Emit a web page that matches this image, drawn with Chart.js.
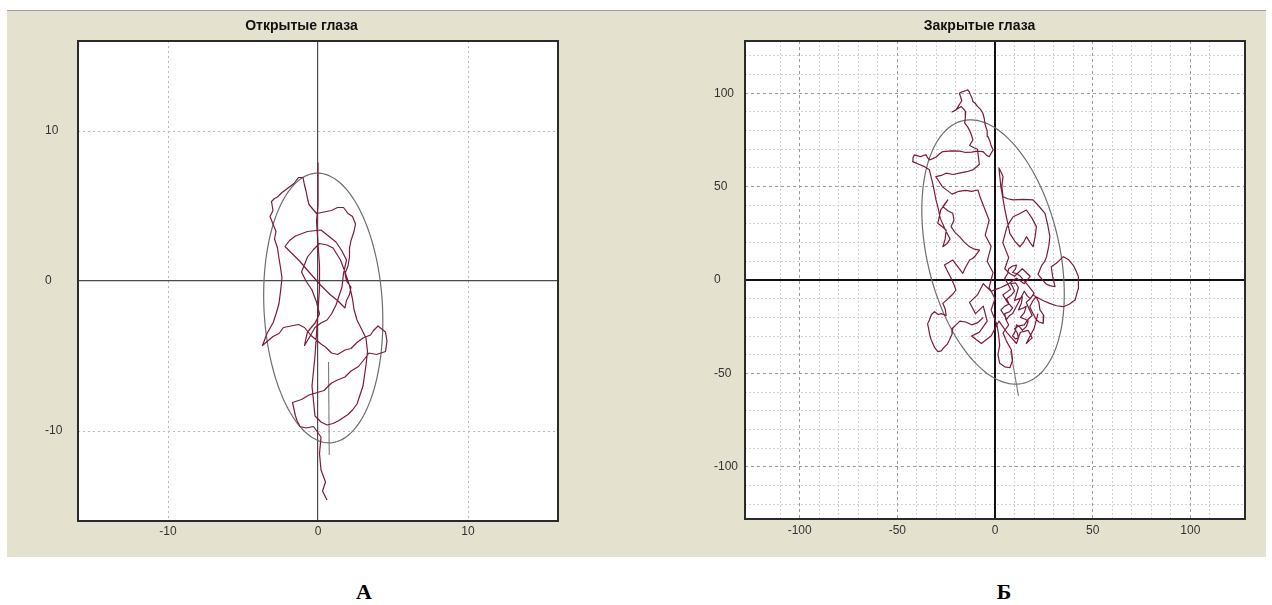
<!DOCTYPE html>
<html>
<head>
<meta charset="utf-8">
<script src="https://cdn.jsdelivr.net/npm/chart.js@4.4.1/dist/chart.umd.min.js"></script>
<style>
  html, body { margin: 0; padding: 0; background: #fff; width: 1272px; height: 605px; overflow: hidden; }
  #panel { position: absolute; left: 7px; top: 10px; width: 1259px; height: 546px; background: #e4e1cf; border-top: 1px solid #a5a392; }
  canvas { position: absolute; }
  .tag { position: absolute; font: bold 22px "Liberation Serif", "Times New Roman", serif; color: #000; transform: translate(-50%, -50%); }
</style>
</head>
<body>
<div id="panel"></div>
<canvas id="openChart" width="580" height="545" style="left:8px;top:11px"></canvas>
<canvas id="closedChart" width="572" height="545" style="left:690px;top:11px"></canvas>
<div class="tag" style="left:364px;top:592px">А</div>
<div class="tag" style="left:1004px;top:592px">Б</div>

<script>
// ---- data: open eyes (units as on the axes) ----
const OPEN_TITLE = "Открытые глаза";
const OPEN_RANGE = [-16, 16];
const OPEN_TICKS = [-10, 0, 10];
const OPEN_TRACE = [
  [0.6,-14.6],[0.3,-14.0],[0.5,-13.4],[0.2,-12.6],[0.1,-11.5],[0.2,-10.4],[-0.3,-9.7],[-0.8,-9.8],[-1.2,-9.7],
  [-1.4,-9.3],[-1.5,-9.0],[-1.7,-8.1],[-1.1,-7.9],[-0.6,-7.6],[0.4,-7.3],[0.9,-6.8],[1.3,-6.6],[1.8,-6.4],
  [2.2,-6.0],[2.7,-5.7],[3.1,-5.2],[3.4,-4.8],[3.9,-4.9],[4.5,-4.7],[4.6,-4.0],[4.5,-3.4],[4.0,-3.0],
  [3.7,-3.3],[3.5,-3.6],[3.0,-3.8],[2.6,-4.1],[2.2,-4.5],[1.8,-4.6],[1.3,-4.9],[0.9,-4.8],[0.5,-4.4],
  [0.2,-4.2],[-0.5,-3.6],[-0.9,-3.1],[-1.3,-2.9],[-1.8,-3.0],[-2.3,-3.1],[-2.6,-3.5],[-3.0,-3.7],[-3.7,-4.3],
  [-3.4,-3.5],[-3.0,-2.8],[-2.8,-2.2],[-2.6,-1.5],[-2.5,-0.7],[-2.4,0.2],[-2.5,0.9],[-2.6,1.5],[-2.7,2.2],
  [-2.9,2.8],[-2.8,3.3],[-3.0,3.8],[-3.2,4.3],[-3.0,4.7],[-3.1,5.3],[-2.9,5.5],[-2.7,5.6],[-2.4,5.9],
  [-2.0,6.2],[-1.6,6.5],[-1.3,6.9],[-1.0,6.9],[-0.9,6.4],[-0.8,6.0],[-0.7,5.5],[-0.6,5.1],[-0.1,4.5],
  [0.4,4.6],[0.9,4.7],[1.3,4.9],[1.7,4.9],[2.0,4.5],[2.3,4.3],[2.5,3.8],[2.4,3.3],[2.2,2.7],[2.1,2.2],
  [2.1,1.6],[2.0,1.0],[1.8,0.5],[1.9,0.0],[2.2,-0.4],[2.1,-0.9],[1.9,-1.3],[1.8,-1.8],[1.3,-1.3],
  [0.8,-0.9],[0.1,-0.2],[-0.6,0.6],[-1.2,1.3],[-1.8,1.9],[-2.2,2.3],[-1.9,2.7],[-1.5,3.0],[-0.7,3.3],
  [0.2,3.4],[0.7,3.0],[1.2,2.6],[1.6,2.0],[1.9,1.4],[1.7,0.5],[1.6,-0.4],[1.4,-1.0],[1.2,-1.6],
  [0.9,-2.2],[0.6,-2.6],[0.2,-2.8],[-0.2,-3.1],[-0.6,-3.8],[-0.9,-4.3],[-0.8,-3.8],[-0.7,-3.4],[-0.2,-2.8],
  [0.1,-2.2],[-0.1,-1.4],[-0.4,-0.6],[-0.8,0.0],[-1.1,0.6],[-0.9,1.1],[-0.7,1.6],[-0.3,2.1],[0.1,2.5],
  [0.6,2.4],[1.0,2.2],[1.5,1.4],[1.8,0.6],[2.1,-0.3],[2.3,-1.2],[2.4,-1.9],[2.6,-2.6],[2.9,-3.2],
  [3.2,-3.8],[3.3,-4.7],[3.2,-5.6],[3.1,-6.3],[3.0,-7.0],[2.8,-7.6],[2.6,-8.2],[2.3,-8.6],[2.0,-8.9],
  [1.7,-9.1],[1.4,-9.3],[1.0,-9.5],[0.6,-9.6],[0.2,-9.4],[-0.2,-9.0],[-0.3,-8.0],[-0.4,-7.0],[-0.3,-6.0],
  [-0.2,-5.0],[-0.1,-3.5],[0.0,-2.0],[0.1,-0.5],[0.1,1.0],[0.0,2.5],[-0.1,4.0],[0.0,5.0],[0.0,6.0],[0.0,7.9]
];
const OPEN_TAIL = [[0.7,-5.4],[0.75,-11.6]];
// ellipse: centre x, centre y, half major, half minor, tilt of major axis from vertical (deg)
const OPEN_ELLIPSE = [0.35, -1.8, 9.0, 3.95, 3];

// ---- data: closed eyes ----
const CLOSED_TITLE = "Закрытые глаза";
const CLOSED_RANGE = [-128, 128];
const CLOSED_TICKS = [-100, -50, 0, 50, 100];
const CLOSED_TRACE = [
  [-6,-20],[-9,-23],[-12,-24],[-15,-22.5],[-18,-22],[-20,-24],[-21.6,-25.7],[-22,-29],[-23.3,-32],[-24.5,-34.5],
  [-26,-36],[-27.5,-38],[-29.3,-38.4],[-31,-36],[-32.7,-32],[-33.5,-29],[-34,-26],[-34.5,-23.5],[-33.6,-21.4],
  [-32.5,-18.5],[-31,-17],[-29,-18.5],[-27.5,-18],[-25,-19],[-25.5,-15.5],[-26.7,-12.5],[-24.5,-10.5],
  [-23,-9],[-21.5,-7.5],[-20,-5.4],[-21,-2.5],[-22,0],[-24,4],[-25.9,8],[-23.5,9.5],[-21.6,10.7],
  [-19,7],[-16.5,3.6],[-15,7],[-13,10.7],[-11.5,11.5],[-10,13],[-9,14.5],[-7.9,16],
  [-10.5,16.5],[-13,17.8],[-15.5,20],[-18.2,23.2],[-20.5,25.5],[-22.5,28.6],[-21,32],[-21.6,35.7],
  [-24,37],[-26.7,39.3],[-25.5,41],[-24.2,42.9],[-26,40],[-27.8,37.5],[-28.5,34],[-29.3,30.4],[-27,28.5],
  [-25,26.8],[-25.5,22],[-26.7,17.8],[-24.5,19.5],[-23,22],[-25.5,27],[-28,33],[-29,38],[-30.2,42.9],
  [-31,47],[-31.9,51.8],[-32.8,55.5],[-33.6,59],[-35,60],[-36.1,60.7],[-39,62],[-42.2,63.4],[-42,65.5],
  [-41.3,67],[-39.5,66.5],[-38,66],[-36.5,66.8],[-35.3,67],[-34.5,65.5],[-33.6,64.3],[-31.8,65],[-30,66],
  [-28.5,67.5],[-26.7,68.8],[-22,69.2],[-18,69],[-15,68.3],[-12,68.5],[-9,69],[-6.2,68.8],[-4.5,67],[-3,66],
  [-1,69.7],[-2,72],[-2.5,74],[-3.6,76.8],[-4,80],[-5,83],[-5.5,86.5],[-6.2,89.3],[-7.5,91.5],[-9,93],
  [-10,94.5],[-11.3,95.6],[-11.8,97.5],[-12.5,99],[-13.2,100.8],[-13.9,101.8],[-15,101.5],[-16,101],
  [-17,100.8],[-18.2,100],[-17.6,98],[-17,96],[-18.5,93.5],[-19.9,91.1],[-21,90.5],[-22,90],[-19.5,91.5],
  [-17.3,92.9],[-16,91.5],[-15,90],[-15.2,87],[-15.5,84],[-14,82],[-13,80],[-12,77.5],[-11.3,75],
  [-12.2,73.5],[-13,72],[-11,71],[-9,70],
  [-8.5,66],[-8,62],[-9.5,60.5],[-11.3,59],[-14.5,58],[-18.2,57.2],[-21.5,56.5],[-25,57.2],[-27.5,56],
  [-30.3,55.4],[-28.5,52.5],[-27,50],[-24.5,48],[-22,46],[-18.5,47.5],[-15,48],[-12,47.5],[-8.7,48.2],
  [-7.5,44],[-6,40],[-4.5,36],[-3,32],[-4,28],[-5,24],[-3.5,21],[-2,18],[-3,14],[-4,10],[-2.5,7],[-1,4],
  [-2,0],[-3,-4],[-1.5,-7],[0,-10],[-1,-13],[-2,-16],[-0.5,-20],[1,-24],[1.8,-29],
  [2.4,-35],[1.5,-40],[2.4,-44.6],[5,-46.5],[7.6,-47],[9,-43],[8.4,-37.5],[6,-33],[4.1,-28.4],[7,-24],
  [5.5,-21],[5,-18],[7.5,-17],[9,-15],[7,-12.5],[6,-10],[8.5,-8],[10,-6],[9,-3.5],[8,-2],[10.5,-1.5],
  [12,-4],[11,-7.5],[10,-11],[12.5,-10],[14,-9],[13.5,-12.5],[12,-16],[14.5,-15],[16,-14],[15,-17.5],
  [13,-20],[15.5,-21],[17,-22],[16,-25],[14,-27],[12.5,-25],[11,-24],[10.5,-27],[9,-30],[10.5,-31.5],
  [12,-31],[11.5,-28.5],[10,-26],[12.5,-24.5],[15,-24],[17,-21],[19,-19],[17.5,-15.5],[16,-12],
  [18.5,-9.5],[20,-7],[18.5,-5],[17,-3],[15,-0.5],[13,2],[11,3.5],[9,4],[10.5,6],[11,8],[9,7.5],[7,6],
  [6.5,3.5],[5,1],[6.5,-2],[8,-5],[6,-6.5],[4,-8],[5.5,-10.5],[7,-13],[5,-14],[3,-16],[4.5,-18.5],
  [6,-21],[7.5,-19],[9,-18],[10.5,-15],[12,-12],[13.5,-9],[15,-6],[16.5,-8.5],[18,-10],[19.5,-8],
  [21,-9],[22.5,-12],[23,-16],[25,-19],[24.7,-23.2],[22.5,-22.5],[21,-21],[19,-17],[17.8,-14.3],
  [19.5,-11],[21,-9],[24.5,-11],[28,-12.5],[31.5,-13.8],[35,-14.3],[38,-13],[41,-10.7],[42.5,-5],
  [42.7,1.8],[41.5,5],[40,8],[37.5,11],[35,12.5],[33,10.5],[31.4,9],[28.8,7.1],[29.5,2],[30.7,-3.6],
  [28,-3],[26,-2],[24,0.5],[22,3],[23,5.5],[24,8],[25.5,10],[26.4,12.5],[27.5,18],[28.1,23.2],[27,29.5],
  [25.6,35.7],[22.5,39.5],[19.5,42.9],[14.5,43.2],[9.3,42.9],[6.5,43.5],[4.1,44.6],[3.5,50],[4.1,55.4],
  [3,58],[2,60],[2.5,55],[3,50],
  [5,38],[7.6,25],[10,21],[12.7,17.8],[14.5,20],[16.1,23.2],[18,20],[19.5,17.8],[20.5,23],[21.2,28.6],
  [19,33],[16.1,37.5],[12.5,35.5],[9.3,33.9],[7.5,31],[6,28],[5,24],[4,20],[5.5,16],[7,12],[6,9],[5,6],
  [7.5,3.5],[10,2],[12,4],[14,6],[16,4],[18,2],[16.5,0],[15,-2],[13,-0.5],[11,1],[9,-0.5],[7,-2],
  [5,-3],[3,-4],[0.5,-5],[-2,-6],[-4,-4],[-6,-2],[-7.5,-5],[-9,-8],[-11,-10],[-13,-12],[-11.5,-15],
  [-10,-18],[-8,-16],[-6,-14],[-5,-18],[-4,-22],[-6,-25],[-8,-28],[-10,-29],[-12,-30],[-9.5,-32],
  [-7,-34],[-4.5,-32],[-2,-30],[0,-26],[2,-22],[4,-25],[6,-28],[8.5,-31],[11,-34],[12,-31],[13,-28],
  [15,-27.5],[17,-27],[18,-29],[19,-31],[17.5,-32.5],[16,-34],[18,-30],[20,-26],[21,-22],[22,-18]
];
const CLOSED_TAIL = [[8,-38],[12,-62]];
const CLOSED_ELLIPSE = [-1, 15, 72, 34, 12];

const FONT = '"Liberation Sans", Arial, sans-serif';

// white plotting field under the grid
const fieldPlugin = {
  id: 'field',
  beforeDraw(chart) {
    const {ctx, chartArea: a} = chart;
    ctx.save();
    ctx.fillStyle = '#ffffff';
    ctx.fillRect(a.left, a.top, a.right - a.left, a.bottom - a.top);
    ctx.restore();
  }
};

const framePlugin = {
  id: 'frame',
  afterDraw(chart) {
    const {ctx, chartArea: a} = chart;
    ctx.save();
    ctx.strokeStyle = '#2a2a2a';
    ctx.lineWidth = 2;
    ctx.strokeRect(a.left, a.top, a.right - a.left, a.bottom - a.top);
    ctx.restore();
  }
};

// confidence ellipse, placed through the chart's own scales
const ellipsePlugin = {
  id: 'ellipse',
  beforeDatasetsDraw(chart, args, opts) {
    if (!opts.params) return;
    const [cx, cy, ra, rb, tilt] = opts.params;
    const sx = chart.scales.x, sy = chart.scales.y, a = chart.chartArea;
    const th = tilt * Math.PI / 180;
    const ctx = chart.ctx;
    ctx.save();
    ctx.beginPath();
    ctx.rect(a.left, a.top, a.right - a.left, a.bottom - a.top);
    ctx.clip();
    ctx.strokeStyle = opts.color;
    ctx.lineWidth = 1.2;
    ctx.beginPath();
    for (let i = 0; i <= 160; i++) {
      const t = i / 160 * 2 * Math.PI;
      const u = ra * Math.cos(t), v = rb * Math.sin(t);
      const x = cx - u * Math.sin(th) + v * Math.cos(th);
      const y = cy + u * Math.cos(th) + v * Math.sin(th);
      const px = sx.getPixelForValue(x), py = sy.getPixelForValue(y);
      if (i) ctx.lineTo(px, py); else ctx.moveTo(px, py);
    }
    ctx.stroke();
    ctx.restore();
  }
};

function keep(list) {
  return axis => { axis.ticks = axis.ticks.filter(t => list.includes(Math.round(t.value))); };
}

function gridAxis(pos, range, step, list, color, width, dash) {
  const horiz = pos === 'bottom' || pos === 'top';
  return {
    type: 'linear', position: pos, min: range[0], max: range[1],
    ticks: { display: false, stepSize: step },
    afterBuildTicks: keep(list),
    afterFit: a => { if (horiz) a.height = 0; else a.width = 0; },
    grid: { color: color, lineWidth: width, drawTicks: false },
    border: { display: false, dash: dash }
  };
}

function labelAxis(pos, range, step, list, size, pad, gridColor, dash) {
  const horiz = pos === 'bottom';
  return {
    type: 'linear', position: pos, min: range[0], max: range[1],
    ticks: {
      stepSize: step, color: '#333', padding: pad, crossAlign: 'far',
      font: { family: FONT, size: 12 }, autoSkip: false,
      callback: v => String(v)
    },
    afterBuildTicks: keep(list),
    afterFit: a => { if (horiz) a.height = size; else a.width = size; },
    grid: { color: c => c.tick && c.tick.value === 0 ? 'rgba(0,0,0,0)' : gridColor, lineWidth: 1, drawTicks: false },
    border: { display: false, dash: dash }
  };
}

function makeChart(id, cfg) {
  const datasets = [
    { data: cfg.trace.map(p => ({x: p[0], y: p[1]})), borderColor: '#7e1a38', borderWidth: 1.2 },
    { data: cfg.tail.map(p => ({x: p[0], y: p[1]})), borderColor: '#7a7a7a', borderWidth: 1.1 }
  ];
  datasets.forEach(d => { d.showLine = true; d.pointRadius = 0; d.tension = 0; d.borderJoinStyle = 'round'; });
  return new Chart(document.getElementById(id), {
    type: 'scatter',
    data: { datasets },
    options: {
      responsive: false, animation: false, events: [],
      layout: { padding: cfg.padding },
      plugins: {
        legend: { display: false }, tooltip: { enabled: false },
        title: {
          display: true, text: cfg.title, color: '#111',
          font: { family: FONT, size: 14, weight: 'bold' },
          padding: { top: 7, bottom: 6.2 }
        },
        ellipse: { params: cfg.ellipse, color: '#6e6e6e' }
      },
      scales: cfg.scales
    },
    plugins: [fieldPlugin, ellipsePlugin, framePlugin]
  });
}

// open eyes: only +-10 grid, solid zero axes
makeChart('openChart', {
  title: OPEN_TITLE, trace: OPEN_TRACE, tail: OPEN_TAIL, ellipse: OPEN_ELLIPSE,
  padding: { left: 37, right: 30, top: 0, bottom: 0 },
  scales: {
    x: labelAxis('bottom', OPEN_RANGE, 10, OPEN_TICKS, 35, 11, '#b9b9b9', [2, 3]),
    y: labelAxis('left', OPEN_RANGE, 10, OPEN_TICKS, 33, 5, '#b9b9b9', [2, 3]),
    xz: gridAxis('top', OPEN_RANGE, 10, [0], '#4a4a4a', 1.2, []),
    yz: gridAxis('right', OPEN_RANGE, 10, [0], '#4a4a4a', 1.2, [])
  }
});

// closed eyes: minor grid every 10, dotted major every 50
const CLOSED_MINOR = [];
for (let v = -120; v <= 120; v += 10) if (v % 50 !== 0) CLOSED_MINOR.push(v);
makeChart('closedChart', {
  title: CLOSED_TITLE, trace: CLOSED_TRACE, tail: CLOSED_TAIL, ellipse: CLOSED_ELLIPSE,
  padding: { left: 24, right: 17, top: 0, bottom: 0 },
  scales: {
    xm: gridAxis('top', CLOSED_RANGE, 10, CLOSED_MINOR, '#d2d2d2', 1, [2, 2]),
    ym: gridAxis('right', CLOSED_RANGE, 10, CLOSED_MINOR, '#d2d2d2', 1, [2, 2]),
    x: labelAxis('bottom', CLOSED_RANGE, 50, CLOSED_TICKS, 37, 12, '#9a9a9a', [3, 3]),
    y: labelAxis('left', CLOSED_RANGE, 50, CLOSED_TICKS, 31, 5, '#9a9a9a', [3, 3]),
    xz: gridAxis('top', CLOSED_RANGE, 10, [0], '#111', 2, []),
    yz: gridAxis('right', CLOSED_RANGE, 10, [0], '#111', 2, [])
  }
});
</script>
</body>
</html>
